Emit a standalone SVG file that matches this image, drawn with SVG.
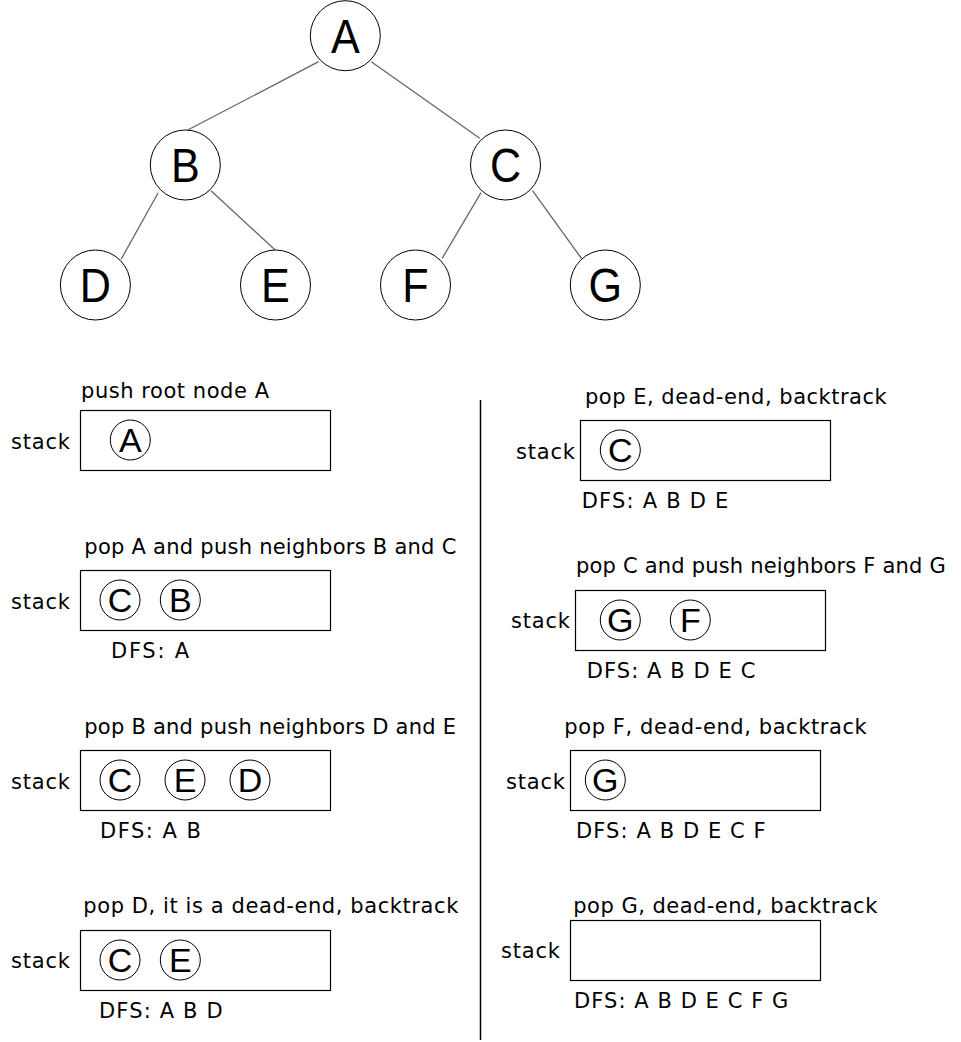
<svg xmlns="http://www.w3.org/2000/svg" width="961" height="1042" viewBox="0 0 961 1042">
<style>
.bg{fill:#ffffff}
.tn circle{fill:#ffffff;stroke:#000000;stroke-width:1}
.tn text{font-family:"Liberation Sans",Arial,sans-serif;font-size:49px;fill:#000000;text-anchor:middle}
.edge{stroke:#666666;stroke-width:1.3;fill:none}
.box{fill:#ffffff;stroke:#000000;stroke-width:1.2}
.sn circle{fill:#ffffff;stroke:#000000;stroke-width:1}
.sn text{font-family:"Liberation Sans",Arial,sans-serif;font-size:34px;fill:#000000;text-anchor:middle}
.lbl{font-family:"DejaVu Sans","Liberation Sans",sans-serif;font-size:21px;fill:#000000}
.div{stroke:#000000;stroke-width:1.5}
</style>
<rect class="bg" x="0" y="0" width="961" height="1042"/>
<g id="connectors">
<line class="edge" x1="318.6" y1="61.7" x2="187.8" y2="130"/>
<line class="edge" x1="371.3" y1="61.7" x2="479.7" y2="138.3"/>
<line class="edge" x1="158.2" y1="192.7" x2="121.1" y2="259.3"/>
<line class="edge" x1="211" y1="190.7" x2="275.1" y2="250"/>
<line class="edge" x1="481" y1="192.7" x2="442.2" y2="258.3"/>
<line class="edge" x1="532.5" y1="190.7" x2="581.5" y2="258.5"/>
</g>
<g id="node-A" class="tn"><circle cx="345.3" cy="35.7" r="35"/><text transform="translate(345.3,52.5) scale(0.88,1)">A</text></g>
<g id="node-B" class="tn"><circle cx="185.3" cy="165" r="35"/><text transform="translate(185.3,181.8) scale(0.88,1)">B</text></g>
<g id="node-C" class="tn"><circle cx="505.5" cy="165" r="35"/><text transform="translate(505.5,181.8) scale(0.88,1)">C</text></g>
<g id="node-D" class="tn"><circle cx="95.4" cy="285" r="35"/><text transform="translate(95.4,301.8) scale(0.88,1)">D</text></g>
<g id="node-E" class="tn"><circle cx="275.5" cy="285" r="35"/><text transform="translate(275.5,301.8) scale(0.88,1)">E</text></g>
<g id="node-F" class="tn"><circle cx="415.5" cy="285" r="35"/><text transform="translate(415.5,301.8) scale(0.88,1)">F</text></g>
<g id="node-G" class="tn"><circle cx="605.3" cy="285" r="35"/><text transform="translate(605.3,301.8) scale(0.88,1)">G</text></g>
<line id="divider" class="div" x1="480.5" y1="400" x2="480.5" y2="1040"/>
<g id="step1">
<text class="lbl" x="81" y="398.3" textLength="188">push root node A</text>
<text class="lbl" x="11" y="449" textLength="59">stack</text>
<rect class="box" x="80.5" y="410.5" width="250" height="60"/>
<g class="sn"><circle cx="130.3" cy="440" r="20"/><text x="130.3" y="451.7">A</text></g>
</g>
<g id="step2">
<text class="lbl" x="84.3" y="554.3" textLength="372">pop A and push neighbors B and C</text>
<text class="lbl" x="11" y="609" textLength="59">stack</text>
<rect class="box" x="80.5" y="570.5" width="250" height="60"/>
<g class="sn"><circle cx="120" cy="600" r="20"/><text x="120" y="611.7">C</text></g>
<g class="sn"><circle cx="180.3" cy="600" r="20"/><text x="180.3" y="611.7">B</text></g>
<text class="lbl" x="111" y="657.7" textLength="78">DFS: A</text>
</g>
<g id="step3">
<text class="lbl" x="84.3" y="734.3" textLength="371.7">pop B and push neighbors D and E</text>
<text class="lbl" x="11" y="789" textLength="59">stack</text>
<rect class="box" x="80.5" y="750.5" width="250" height="60"/>
<g class="sn"><circle cx="120" cy="780" r="20"/><text x="120" y="791.7">C</text></g>
<g class="sn"><circle cx="185" cy="780" r="20"/><text x="185" y="791.7">E</text></g>
<g class="sn"><circle cx="250" cy="780" r="20"/><text x="250" y="791.7">D</text></g>
<text class="lbl" x="100" y="837.7" textLength="101">DFS: A B</text>
</g>
<g id="step4">
<text class="lbl" x="83.3" y="913.3" textLength="375">pop D, it is a dead-end, backtrack</text>
<text class="lbl" x="11" y="968.3" textLength="59">stack</text>
<rect class="box" x="80.5" y="930.5" width="250" height="60"/>
<g class="sn"><circle cx="120" cy="960" r="20"/><text x="120" y="971.7">C</text></g>
<g class="sn"><circle cx="180.3" cy="960" r="20"/><text x="180.3" y="971.7">E</text></g>
<text class="lbl" x="99" y="1018.3" textLength="123.7">DFS: A B D</text>
</g>
<g id="step5">
<text class="lbl" x="585" y="404.3" textLength="301.7">pop E, dead-end, backtrack</text>
<text class="lbl" x="516" y="459" textLength="59">stack</text>
<rect class="box" x="580.5" y="420.5" width="250" height="60"/>
<g class="sn"><circle cx="620.3" cy="450" r="20"/><text x="620.3" y="461.7">C</text></g>
<text class="lbl" x="581.7" y="508.3" textLength="146.6">DFS: A B D E</text>
</g>
<g id="step6">
<text class="lbl" x="576" y="573.3" textLength="369.7">pop C and push neighbors F and G</text>
<text class="lbl" x="511" y="628.3" textLength="59">stack</text>
<rect class="box" x="575.5" y="590.5" width="250" height="60"/>
<g class="sn"><circle cx="620.3" cy="620" r="20"/><text x="620.3" y="631.7">G</text></g>
<g class="sn"><circle cx="690.3" cy="620" r="20"/><text x="690.3" y="631.7">F</text></g>
<text class="lbl" x="586.7" y="677.7" textLength="168.6">DFS: A B D E C</text>
</g>
<g id="step7">
<text class="lbl" x="564.3" y="734.3" textLength="302.4">pop F, dead-end, backtrack</text>
<text class="lbl" x="506" y="789" textLength="59">stack</text>
<rect class="box" x="570.5" y="750.5" width="250" height="60"/>
<g class="sn"><circle cx="605.3" cy="780" r="20"/><text x="605.3" y="791.7">G</text></g>
<text class="lbl" x="576" y="837.7" textLength="189.7">DFS: A B D E C F</text>
</g>
<g id="step8">
<text class="lbl" x="573.3" y="913.3" textLength="304">pop G, dead-end, backtrack</text>
<text class="lbl" x="501" y="958.3" textLength="59">stack</text>
<rect class="box" x="570.5" y="920.5" width="250" height="60"/>
<text class="lbl" x="574" y="1007.7" textLength="214.3">DFS: A B D E C F G</text>
</g>
</svg>
